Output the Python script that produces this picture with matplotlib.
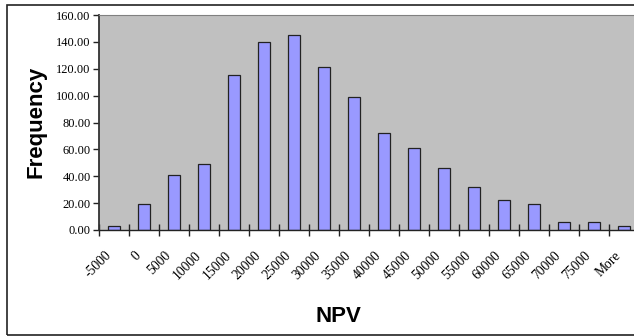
import matplotlib
matplotlib.use("Agg")
import matplotlib.pyplot as plt
import matplotlib.transforms as mtransforms
from matplotlib.patches import Rectangle
import numpy as np

# NPV histogram bins and counts
bins = ["-5000", "0", "5000", "10000", "15000", "20000", "25000", "30000",
        "35000", "40000", "45000", "50000", "55000", "60000", "65000",
        "70000", "75000", "More"]
frequency = [3, 19, 41, 49, 115, 140, 145, 121, 99, 72, 61, 46, 32, 22, 19, 6, 6, 3]
yticks = [0, 20, 40, 60, 80, 100, 120, 140, 160]

W, H = 634, 336
fig = plt.figure(figsize=(W / 100, H / 100), dpi=100)
fig.patch.set_facecolor("white")

# chart frame
fig.patches.append(Rectangle((6.5 / W, 1 - 334.5 / H), 700 / W, 330 / H,
                             transform=fig.transFigure, fill=False,
                             edgecolor="#222222", linewidth=1.2))

ax = fig.add_axes([99 / W, (H - 230) / H, 540 / W, 215 / H])
ax.set_facecolor("#C0C0C0")

x = np.arange(len(bins))
ax.bar(x, frequency, width=0.42, color="#9999FF", edgecolor="#222222", linewidth=0.9)

ax.set_xlim(-0.5, len(bins) - 0.5)
ax.set_ylim(0, 160)

ax.spines["right"].set_visible(False)
ax.spines["top"].set_color("#808080")
ax.spines["left"].set_color("#333333")
ax.spines["left"].set_linewidth(1.3)
ax.spines["bottom"].set_color("#222222")
ax.spines["bottom"].set_linewidth(1.0)

ax.set_yticks(yticks)
ax.set_yticklabels([f"{v:.2f}" for v in yticks], family="Liberation Serif", fontsize=8.9)
ax.tick_params(axis="y", direction="out", length=4, width=1, color="#222222", pad=2)

# tick marks between bins, labels under bins
ax.set_xticks(np.arange(len(bins)) - 0.5)
ax.set_xticklabels([])
ax.tick_params(axis="x", which="major", direction="inout", length=9, width=1, color="#222222")
ax.set_xticks(x, minor=True)
ax.set_xticklabels(bins, minor=True, rotation=45, ha="right", va="center",
                   rotation_mode="anchor", family="Liberation Serif", fontsize=9.8)
ax.tick_params(axis="x", which="minor", length=0, pad=17)
shift = mtransforms.ScaledTranslation(-5 / 100, 0, fig.dpi_scale_trans)
for lab in ax.get_xticklabels(minor=True):
    lab.set_transform(lab.get_transform() + shift)

fig.text(36 / W, 1 - 122 / H, "Frequency", rotation=90, ha="center", va="center",
         family="Liberation Sans", fontweight="bold", fontsize=16)
fig.text(338 / W, 1 - 317 / H, "NPV", ha="center", va="center",
         family="Liberation Sans", fontweight="bold", fontsize=16)

fig.savefig("out.png", dpi=100)
